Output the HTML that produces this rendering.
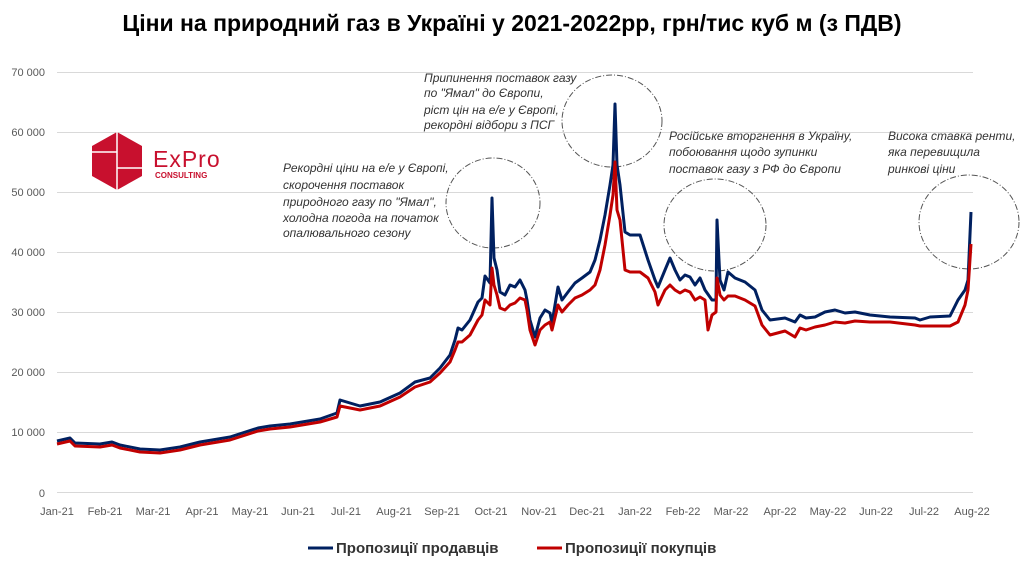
<!DOCTYPE html>
<html><head><meta charset="utf-8"><style>
html,body{margin:0;padding:0;background:#fff;}
svg{display:block;font-family:"Liberation Sans","DejaVu Sans",sans-serif;}
.ax{font-size:11px;fill:#595959;}
.an{font-size:12px;font-style:italic;fill:#333;}
</style></head><body>
<svg width="1024" height="563" viewBox="0 0 1024 563" xmlns="http://www.w3.org/2000/svg">
<text x="512" y="31" text-anchor="middle" font-size="23" font-weight="bold" fill="#000">Ціни на природний газ в Україні у 2021-2022рр, грн/тис куб м (з ПДВ)</text>
<g stroke="#d9d9d9" stroke-width="1">
<line x1="57" x2="973" y1="72.5" y2="72.5"/><line x1="57" x2="973" y1="132.5" y2="132.5"/>
<line x1="57" x2="973" y1="192.5" y2="192.5"/><line x1="57" x2="973" y1="252.5" y2="252.5"/>
<line x1="57" x2="973" y1="312.5" y2="312.5"/><line x1="57" x2="973" y1="372.5" y2="372.5"/>
<line x1="57" x2="973" y1="432.5" y2="432.5"/><line x1="57" x2="973" y1="492.5" y2="492.5"/>
</g>
<g class="ax" text-anchor="end">
<text x="45" y="76">70 000</text><text x="45" y="136">60 000</text><text x="45" y="196">50 000</text>
<text x="45" y="256">40 000</text><text x="45" y="316">30 000</text><text x="45" y="376">20 000</text>
<text x="45" y="436">10 000</text><text x="45" y="497">0</text>
</g>
<g class="ax" text-anchor="middle">
<text x="57" y="515">Jan-21</text><text x="105" y="515">Feb-21</text><text x="153" y="515">Mar-21</text>
<text x="202" y="515">Apr-21</text><text x="250" y="515">May-21</text><text x="298" y="515">Jun-21</text>
<text x="346" y="515">Jul-21</text><text x="394" y="515">Aug-21</text><text x="442" y="515">Sep-21</text>
<text x="491" y="515">Oct-21</text><text x="539" y="515">Nov-21</text><text x="587" y="515">Dec-21</text>
<text x="635" y="515">Jan-22</text><text x="683" y="515">Feb-22</text><text x="731" y="515">Mar-22</text>
<text x="780" y="515">Apr-22</text><text x="828" y="515">May-22</text><text x="876" y="515">Jun-22</text>
<text x="924" y="515">Jul-22</text><text x="972" y="515">Aug-22</text>
</g>
<polygon points="117,132 142,146 142,176 117,190 92,176 92,146" fill="#c8102e"/>
<line x1="117" y1="132" x2="117" y2="190" stroke="#fff" stroke-width="1.5"/>
<line x1="92" y1="152" x2="117" y2="152" stroke="#fff" stroke-width="1.5"/>
<line x1="117" y1="168" x2="142" y2="168" stroke="#fff" stroke-width="1.5"/>
<text x="153" y="167" font-size="23" fill="#c8102e" letter-spacing="1">ExPro</text>
<text x="155" y="178" font-size="8" font-weight="bold" fill="#c8102e">CONSULTING</text>
<g class="an">
<text x="283" y="172">Рекордні ціни на е/е у Європі,</text>
<text x="283" y="189">скорочення поставок</text>
<text x="283" y="206">природного газу по "Ямал",</text>
<text x="283" y="222">холодна погода на початок</text>
<text x="283" y="237">опалювального сезону</text>
<text x="424" y="82">Припинення поставок газу</text>
<text x="424" y="97">по "Ямал" до Європи,</text>
<text x="424" y="114">ріст цін на е/е у Європі,</text>
<text x="424" y="129">рекордні відбори з ПСГ</text>
<text x="669" y="140">Російське вторгнення в Україну,</text>
<text x="669" y="156">побоювання щодо зупинки</text>
<text x="669" y="173">поставок газу з РФ до Європи</text>
<text x="888" y="140">Висока ставка ренти,</text>
<text x="888" y="156">яка перевищила</text>
<text x="888" y="173">ринкові ціни</text>
</g>
<g fill="none" stroke="#555" stroke-width="1" stroke-dasharray="6,2,1,2">
<ellipse cx="493" cy="203" rx="47" ry="45"/>
<ellipse cx="612" cy="121" rx="50" ry="46"/>
<ellipse cx="715" cy="225" rx="51" ry="46"/>
<ellipse cx="969" cy="222" rx="50" ry="47"/>
</g>
<polyline fill="none" stroke="#002060" stroke-width="3" stroke-linejoin="round" points="57,441 70,438 75,443 100,444 112,442 120,445 140,449 160,450 180,447 200,442 230,437 258,428 270,426 290,424 320,419 337,413 340,400 350,403 360,406 380,402 400,393 415,382 430,378 440,368 450,355 455,340 458,328 462,330 470,320 478,302 482,298 485,276 490,283 492,198 494,258 497,270 500,292 505,295 510,285 515,287 520,280 525,290 527,300 530,320 535,337 540,318 545,310 550,313 552,323 558,287 562,300 568,292 575,283 582,278 590,272 595,260 600,240 605,215 610,185 613,165 615,104 617,165 620,185 625,232 630,235 640,235 648,260 655,280 658,287 665,270 670,258 675,270 680,280 685,275 690,277 695,285 700,278 705,290 712,300 716,300 717,220 720,280 724,290 728,272 735,278 745,282 755,290 762,310 770,320 785,318 795,322 800,315 806,318 815,317 825,312 835,310 845,313 855,312 870,315 890,317 915,318 920,320 930,317 950,316 958,300 965,290 968,280 971,212"/>
<polyline fill="none" stroke="#c00000" stroke-width="3" stroke-linejoin="round" points="57,444 70,441 75,446 100,447 112,445 120,448 140,452 160,453 180,450 200,445 230,440 258,431 270,429 290,427 320,422 337,417 340,406 350,408 360,410 380,406 400,397 415,387 430,382 440,373 450,362 455,350 458,342 462,342 470,335 478,320 482,315 485,300 490,305 492,268 494,285 497,295 500,308 505,310 510,305 515,303 520,298 525,300 527,310 530,330 535,345 540,330 545,325 550,322 552,330 558,305 562,312 568,305 575,298 582,295 590,290 595,285 600,270 605,245 610,215 613,195 615,162 617,210 620,220 625,270 630,272 640,272 648,278 655,292 658,305 665,290 670,285 675,290 680,293 685,290 690,292 695,300 700,297 705,300 708,330 712,315 716,312 717,278 720,295 724,300 728,296 735,296 745,300 755,306 762,325 770,335 785,331 795,337 800,328 806,330 815,327 825,325 835,322 845,323 855,321 870,322 890,322 915,325 920,326 930,326 950,326 958,322 965,305 968,290 971,244"/>
<line x1="308" y1="548" x2="333" y2="548" stroke="#002060" stroke-width="3"/>
<text x="336" y="553" font-size="15" font-weight="bold" fill="#333">Пропозиції продавців</text>
<line x1="537" y1="548" x2="562" y2="548" stroke="#c00000" stroke-width="3"/>
<text x="565" y="553" font-size="15" font-weight="bold" fill="#333">Пропозиції покупців</text>
</svg>
</body></html>
